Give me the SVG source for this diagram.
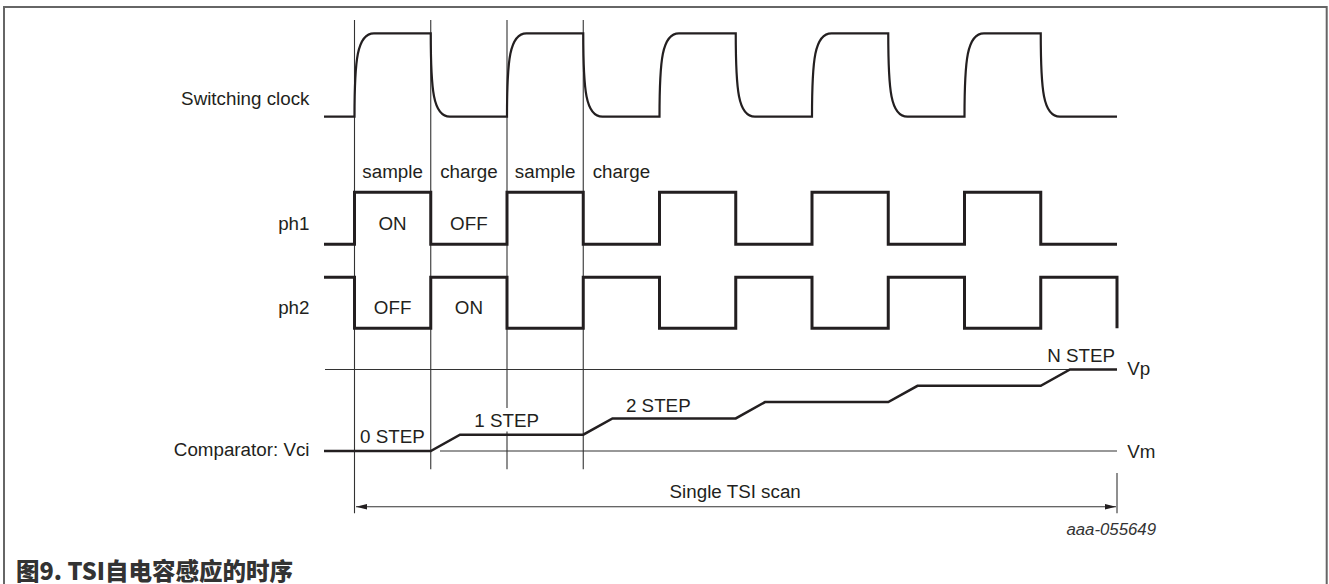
<svg xmlns="http://www.w3.org/2000/svg" width="1329" height="584" viewBox="0 0 1329 584">
  <style>
    .t { font-family: "Liberation Sans", Arial, sans-serif; font-size: 18.8px; fill: #231f20; }
    .m { text-anchor: middle; }
    .e { text-anchor: end; }
    .thin { fill: none; stroke: #333; stroke-width: 1.1; }
    .clk { fill: none; stroke: #231f20; stroke-width: 2.2; }
    .ph { fill: none; stroke: #231f20; stroke-width: 3; stroke-linejoin: miter; stroke-linecap: butt; }
    .vci { fill: none; stroke: #231f20; stroke-width: 2.5; stroke-linejoin: miter; }
    .cap { font-family: "Noto Sans CJK SC", "Noto Sans", sans-serif; font-size: 23.5px; font-weight: 900; fill: #333; }
    .id { font-family: "Liberation Sans", Arial, sans-serif; font-size: 16.8px; font-style: italic; fill: #333; text-anchor: end; }
  </style>
  <defs>
    <marker id="ah" markerUnits="userSpaceOnUse" markerWidth="12" markerHeight="8" refX="11" refY="3" orient="auto-start-reverse">
      <path d="M0,0.3 L11,3 L0,5.7 Z" fill="#231f20"/>
    </marker>
  </defs>

  <rect width="1329" height="584" fill="#ffffff"/>
  <path id="frame" d="M4,584 V7 H1326.7 V584" fill="none" stroke="#666" stroke-width="2"/>

  <g id="connectors">
    <path class="thin" d="M354.5,20 V513.3"/>
    <path class="thin" d="M430.75,20 V469.3"/>
    <path class="thin" d="M507,20 V408 M507,431.5 V469.3"/>
    <path class="thin" d="M583.25,20 V469.3"/>
    <path class="thin" d="M1117,473 V513.3"/>
    <path class="thin" d="M325,369.5 H1117"/>
    <path class="thin" d="M440,451 H1117"/>
    <path class="thin" d="M356,506.7 H1116" marker-start="url(#ah)" marker-end="url(#ah)"/>
  </g>

  <g id="switching-clock">
    <text class="t e" x="309.5" y="105">Switching clock</text>
    <path class="clk" d="M324,116.7 H354.5 C354.5,60 357,33.3 374,33.3 H430.75 C430.75,90 433,116.7 450,116.7 H507 C507,60 509.5,33.3 526.5,33.3 H583.25 C583.25,90 585.5,116.7 602.5,116.7 H659.5 C659.5,60 662,33.3 679,33.3 H735.75 C735.75,90 738,116.7 755,116.7 H812 C812,60 814.5,33.3 831.5,33.3 H888.25 C888.25,90 890.5,116.7 907.5,116.7 H964.5 C964.5,60 967,33.3 984,33.3 H1040.75 C1040.75,90 1043,116.7 1060,116.7 H1117"/>
  </g>

  <g id="phase-labels">
    <text class="t m" x="392.6" y="178">sample</text>
    <text class="t m" x="468.9" y="178">charge</text>
    <text class="t m" x="545.1" y="178">sample</text>
    <text class="t m" x="621.4" y="178">charge</text>
  </g>

  <g id="ph1">
    <text class="t e" x="309.5" y="230">ph1</text>
    <path class="ph" d="M324,244.3 H354.5 V192.3 H430.75 V244.3 H507 V192.3 H583.25 V244.3 H659.5 V192.3 H735.75 V244.3 H812 V192.3 H888.25 V244.3 H964.5 V192.3 H1040.75 V244.3 H1117"/>
    <text class="t m" x="392.6" y="230">ON</text>
    <text class="t m" x="468.9" y="230">OFF</text>
  </g>

  <g id="ph2">
    <text class="t e" x="309.5" y="314">ph2</text>
    <path class="ph" d="M324,277.3 H354.5 V328.3 H430.75 V277.3 H507 V328.3 H583.25 V277.3 H659.5 V328.3 H735.75 V277.3 H812 V328.3 H888.25 V277.3 H964.5 V328.3 H1040.75 V277.3 H1117 V328.3"/>
    <text class="t m" x="392.6" y="314">OFF</text>
    <text class="t m" x="468.9" y="314">ON</text>
  </g>

  <g id="comparator">
    <text class="t e" x="309.5" y="456">Comparator: Vci</text>
    <path class="vci" d="M324,451 H430.75 L460,434.7 H583.25 L612.5,418.4 H735.75 L765,402.1 H888.25 L917.5,385.8 H1040.75 L1070,369.5 H1117"/>
    <text class="t m" x="392.4" y="442.7">0 STEP</text>
    <text class="t m" x="506.7" y="427.3">1 STEP</text>
    <text class="t m" x="658.3" y="411.7">2 STEP</text>
    <text class="t e" x="1115" y="361.7">N STEP</text>
    <text class="t" x="1127.3" y="375.3">Vp</text>
    <text class="t" x="1127.3" y="457.7">Vm</text>
  </g>

  <g id="scan">
    <text class="t m" x="735.2" y="498.3">Single TSI scan</text>
    <text class="id" x="1156" y="535">aaa-055649</text>
  </g>

  <g id="caption">
    <text class="cap" x="16" y="579.5">图9. TSI自电容感应的时序</text>
  </g>
</svg>
